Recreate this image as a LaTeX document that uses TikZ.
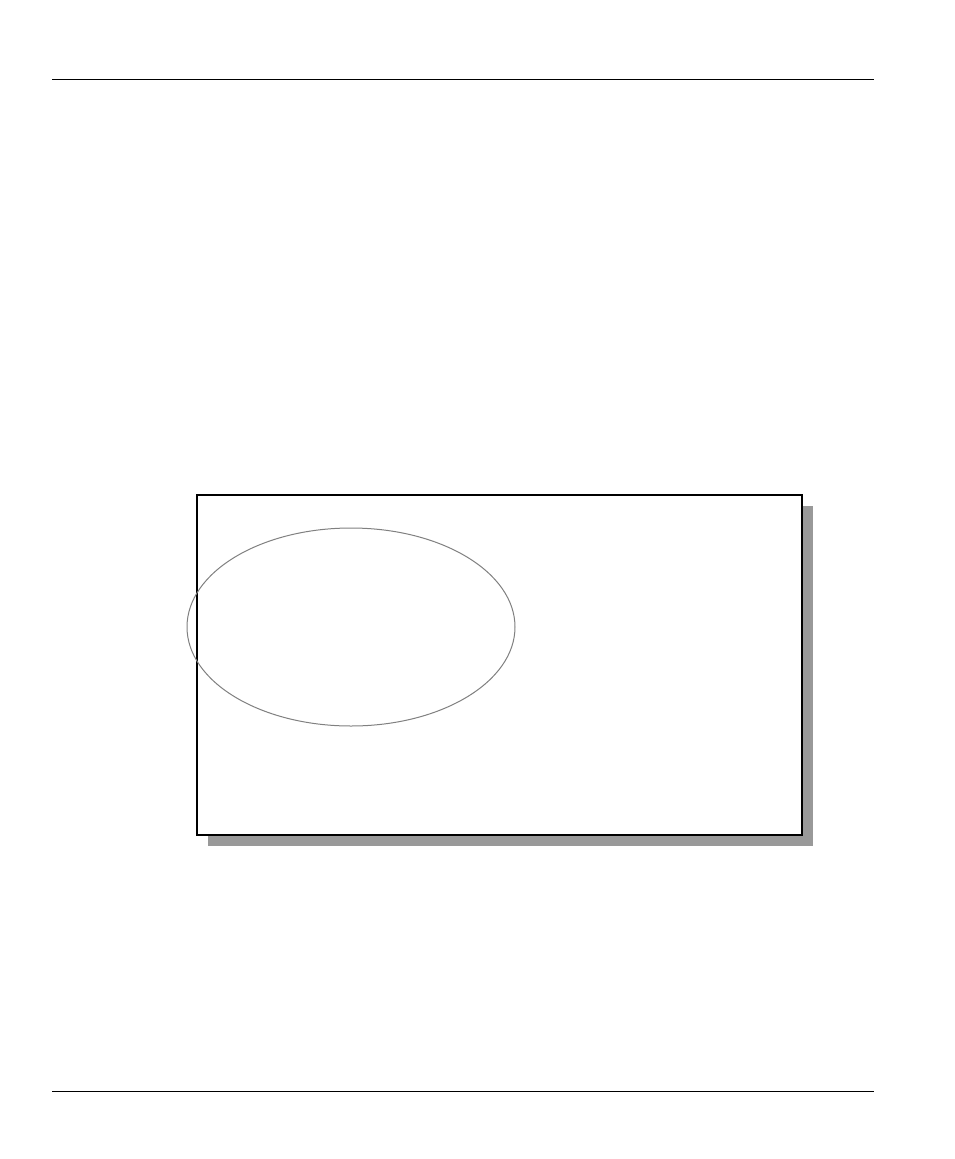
\documentclass[tikz,border=0pt]{standalone}
\usepackage{tikz}
\usetikzlibrary{shapes.geometric, positioning, calc}
\definecolor{shadowgray}{RGB}{153, 153, 153}
\definecolor{ringgray}{RGB}{128, 128, 128}

\begin{document}
\begin{tikzpicture}[x=1pt, y=-1pt,
    rule/.style={line width=1pt, black},
    framebox/.style={draw=black, fill=white, line width=1.4pt, minimum width=605pt, minimum height=340pt, inner sep=0pt},
    shadowbox/.style={fill=shadowgray, minimum width=605pt, minimum height=340pt, inner sep=0pt},
    ring/.style={draw=ringgray, ellipse, line width=1pt, minimum width=328pt, minimum height=198pt, inner sep=0pt}]
  \useasboundingbox (0,0) rectangle (954,1159);
  % page rules
  \coordinate (topL) at (52,79.5);
  \coordinate (topR) at (874,79.5);
  \coordinate (botL) at (52,1091);
  \coordinate (botR) at (874,1091);
  \draw[rule] (topL) -- (topR);
  \draw[rule] (botL) -- (botR);
  % framed area with drop shadow
  \node[shadowbox] (shadow) at (510,676) {};
  \node[framebox] (frame) at (499.5,665) {};
  \node[ring] (ring) at (351,627) {};
\end{tikzpicture}
\end{document}
